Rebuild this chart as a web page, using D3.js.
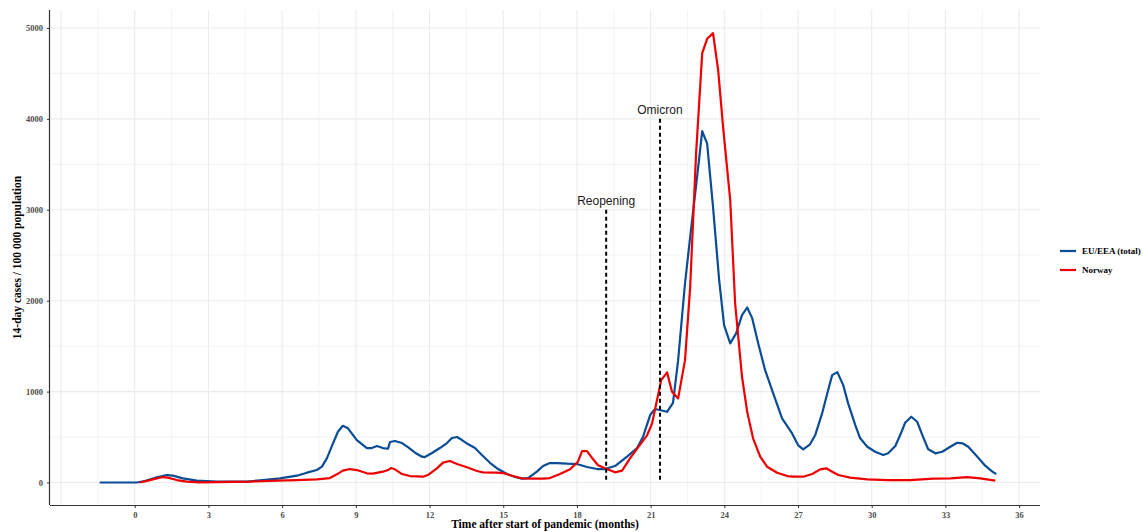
<!DOCTYPE html>
<html><head><meta charset="utf-8">
<script src="https://cdn.jsdelivr.net/npm/d3@7"></script>
<style>body{margin:0;background:#fff}svg{display:block}</style>
</head><body>
<svg id="c" width="1143" height="532"></svg>
<script>
const euMonths = [-1.43,0.08,0.41,0.90,1.30,1.55,1.96,2.53,3.34,4.56,5.21,5.91,6.60,7.01,7.41,7.62,7.82,8.07,8.27,8.47,8.68,9.04,9.45,9.65,9.86,10.10,10.31,10.39,10.59,10.88,11.12,11.41,11.69,11.81,12.10,12.42,12.71,12.91,13.12,13.32,13.56,13.85,14.13,14.46,14.79,15.15,15.48,15.76,16.01,16.37,16.62,16.90,17.19,17.60,18.00,18.41,18.82,19.14,19.55,20.04,20.45,20.69,20.98,21.18,21.67,21.91,22.12,22.40,22.61,22.89,23.10,23.30,23.54,23.79,23.99,24.24,24.48,24.72,24.93,25.13,25.38,25.66,25.99,26.35,26.76,27.00,27.21,27.49,27.70,27.98,28.19,28.39,28.60,28.84,29.04,29.33,29.53,29.82,30.14,30.47,30.67,30.96,31.16,31.36,31.61,31.85,32.06,32.30,32.59,32.87,33.20,33.48,33.69,33.93,34.30,34.62,34.91,35.07];
const euValues = [0,0,16,57,82,75,46,20,9,9,27,46,75,108,137,174,266,431,558,624,596,467,379,379,401,379,371,445,456,434,390,328,284,280,324,379,434,489,500,467,423,379,302,217,148,93,60,42,49,119,181,214,214,207,203,170,148,148,181,284,379,503,742,808,778,877,1346,2192,2701,3360,3866,3727,3031,2225,1731,1530,1640,1841,1925,1811,1530,1236,980,705,540,412,365,420,522,760,980,1181,1214,1071,870,632,486,393,338,302,321,401,522,657,723,668,522,365,321,338,393,437,431,393,284,185,119,93];
const noMonths = [0.20,0.53,0.90,1.14,1.34,1.71,2.12,2.65,4.68,5.78,6.60,7.41,7.94,8.23,8.47,8.76,9.04,9.45,9.69,10.10,10.31,10.43,10.59,10.88,11.20,11.73,11.93,12.30,12.55,12.83,13.12,13.52,13.93,14.18,14.75,14.99,15.40,15.76,16.21,16.62,16.90,17.31,17.72,18.04,18.21,18.41,18.66,18.86,19.14,19.55,19.84,20.16,20.49,20.86,21.06,21.26,21.43,21.67,21.87,22.12,22.40,22.61,22.85,23.10,23.30,23.54,23.75,23.95,24.24,24.44,24.72,24.93,25.17,25.46,25.74,26.15,26.56,26.80,27.21,27.58,27.90,28.15,28.39,28.64,29.12,29.82,30.63,31.57,32.51,33.20,33.89,34.42,35.03];
const noValues = [0,20,46,60,53,27,9,2,9,20,27,35,49,90,130,148,137,101,97,119,137,159,145,93,71,64,82,156,218,236,203,167,126,112,108,104,71,46,42,42,49,93,145,229,346,346,255,190,156,112,130,266,387,522,651,907,1126,1211,998,925,1346,2152,3618,4723,4881,4943,4533,3910,3104,1969,1163,778,486,284,174,108,71,64,64,93,145,156,119,82,53,35,27,27,42,46,60,46,20];
const seriesNames = ["EU/EEA (total)","Norway"];
const seriesColors = ["#0a4c95","#ee0000"];
const xTicks = [0,3,6,9,12,15,18,21,24,27,30,33,36];
const yTicks = [0,1000,2000,3000,4000,5000];
const events = ["Reopening","Omicron"];
const eventMonths = [19.19,21.38];
const eventTops = [3000,4000];

const svg = d3.select("#c");
const L=50, R=1040, T=10, B=505;
const x = d3.scaleLinear().domain([-3.45,36.85]).range([L,R]);
const y = d3.scaleLinear().domain([-247.5,5197.5]).range([B,T]);

const grid = svg.append("g");
const minorX = d3.range(-3,37,1.5);
grid.selectAll("line.vx").data(minorX).join("line")
  .attr("x1",d=>x(d)).attr("x2",d=>x(d)).attr("y1",T).attr("y2",B)
  .attr("stroke","#ebebeb").attr("stroke-width",d=>(d%3===0)?1.1:0.6);
const minorY = d3.range(0,5001,500);
grid.selectAll("line.hy").data(minorY).join("line")
  .attr("x1",L).attr("x2",R).attr("y1",d=>y(d)).attr("y2",d=>y(d))
  .attr("stroke","#ebebeb").attr("stroke-width",d=>(d%1000===0)?1.1:0.6);

const line = d3.line().x(d=>x(d[0])).y(d=>y(d[1]));
const eu = euMonths.map((m,i)=>[m,euValues[i]]);
const no = noMonths.map((m,i)=>[m,noValues[i]]);
[eu,no].forEach((s,i)=>{
  svg.append("path").datum(s).attr("d",line).attr("fill","none")
    .attr("stroke",seriesColors[i]).attr("stroke-width",2.2).attr("stroke-linejoin","round");
});

events.forEach((e,i)=>{
  svg.append("line").attr("x1",x(eventMonths[i])).attr("x2",x(eventMonths[i]))
    .attr("y1",y(eventTops[i])).attr("y2",y(0))
    .attr("stroke","#000").attr("stroke-width",2).attr("stroke-dasharray","4,3");
  svg.append("text").attr("x",x(eventMonths[i])).attr("y",y(eventTops[i])-5)
    .attr("text-anchor","middle").attr("font-family","Liberation Sans, Arial, sans-serif")
    .attr("font-size",12).attr("fill","#1a1a1a").text(e);
});

const xa = svg.append("g").attr("transform",`translate(0,${B})`)
  .call(d3.axisBottom(x).tickValues(xTicks).tickFormat(d3.format("d")).tickSize(3).tickPadding(4));
const ya = svg.append("g").attr("transform",`translate(${L},0)`)
  .call(d3.axisLeft(y).tickValues(yTicks).tickFormat(d3.format("d")).tickSize(3).tickPadding(4));
[xa,ya].forEach(a=>{
  a.select(".domain").attr("stroke","#333").attr("stroke-width",1.2);
  a.selectAll(".tick line").attr("stroke","#333");
  a.selectAll(".tick text").attr("font-family","Liberation Serif, Times New Roman, serif")
    .attr("font-size",8.5).attr("font-weight","bold").attr("fill","#4d4d4d");
});
xa.select(".domain").attr("d",`M${L},0.5H${R}`);
ya.select(".domain").attr("d",`M-0.5,${T}V${B}`);

svg.append("text").attr("x",(L+R)/2).attr("y",528).attr("text-anchor","middle")
  .attr("font-family","Liberation Serif, Times New Roman, serif").attr("font-weight","bold")
  .attr("font-size",11.5).attr("fill","#000").text("Time after start of pandemic (months)");
svg.append("text").attr("transform",`translate(21,${(T+B)/2}) rotate(-90)`).attr("text-anchor","middle")
  .attr("font-family","Liberation Serif, Times New Roman, serif").attr("font-weight","bold")
  .attr("font-size",11.5).attr("fill","#000").text("14-day cases / 100 000 population");

const lg = svg.append("g");
seriesNames.forEach((n,i)=>{
  const yy = 251 + i*19;
  lg.append("line").attr("x1",1060).attr("x2",1076).attr("y1",yy).attr("y2",yy)
    .attr("stroke",seriesColors[i]).attr("stroke-width",2.2);
  lg.append("text").attr("x",1082).attr("y",yy+3).attr("font-family","Liberation Serif, Times New Roman, serif")
    .attr("font-weight","bold").attr("font-size",9).attr("fill","#000").text(n);
});
</script>
</body></html>
